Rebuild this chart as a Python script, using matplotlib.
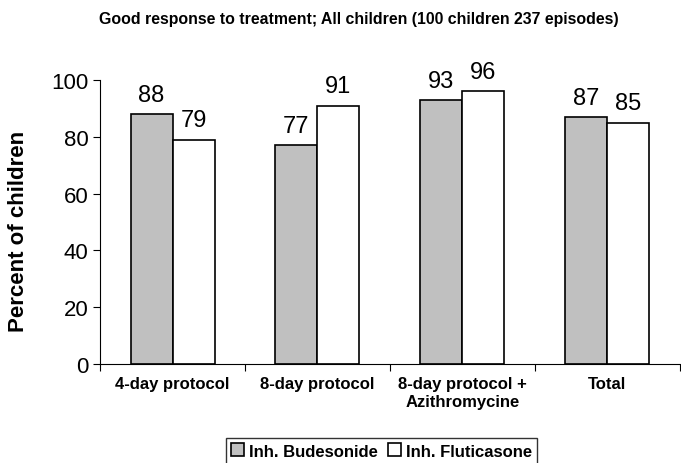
import matplotlib.pyplot as plt
import numpy as np

categories = ["4-day protocol", "8-day protocol", "8-day protocol +\nAzithromycine", "Total"]
budesonide = [88, 77, 93, 87]
fluticasone = [79, 91, 96, 85]

plt.rcParams['font.family'] = ['Liberation Sans', 'DejaVu Sans']

fig = plt.figure(figsize=(6.81, 4.64), dpi=100)
ax = fig.add_axes([0.147, 0.2134, 0.851, 0.612])

x = np.arange(len(categories))
width = 0.29

b1 = ax.bar(x - width / 2, budesonide, width, color='#c0c0c0', edgecolor='black', linewidth=1.2,
            label='Inh. Budesonide')
b2 = ax.bar(x + width / 2, fluticasone, width, color='white', edgecolor='black', linewidth=1.2,
            label='Inh. Fluticasone')
ax.bar_label(b1, padding=6, fontsize=17)
ax.bar_label(b2, padding=6, fontsize=17)

ax.set_xlim(-0.5, len(categories) - 0.5)
ax.set_ylim(0, 100)
ax.set_yticks([0, 20, 40, 60, 80, 100])
ax.tick_params(axis='y', labelsize=16, length=5, direction='out')
ax.set_xticks(np.arange(len(categories) + 1) - 0.5)
ax.set_xticklabels([])
ax.tick_params(axis='x', length=5, direction='out')
ax.set_xticks(x, categories, minor=True)
ax.tick_params(axis='x', which='minor', length=0, pad=9, labelsize=12)
for lbl in ax.get_xticklabels(minor=True):
    lbl.set_fontweight('bold')

ax.spines['top'].set_visible(False)
ax.spines['right'].set_visible(False)

ax.set_ylabel('Percent of children', fontsize=16, fontweight='bold')
ax.yaxis.set_label_coords(-0.122, 0.47)
fig.text(0.527, 0.957, 'Good response to treatment; All children (100 children 237 episodes)',
         ha='center', va='center', fontsize=11.4, fontweight='bold')

leg = fig.legend(loc='center', bbox_to_anchor=(0.56, 0.026), ncols=2, frameon=True,
                 fancybox=False, edgecolor='black', prop={'weight': 'bold', 'size': 12},
                 handlelength=0.8, handleheight=0.8, handletextpad=0.3, columnspacing=0.6,
                 borderpad=0.3)
leg.get_frame().set_linewidth(1.0)

fig.savefig('out.png')
